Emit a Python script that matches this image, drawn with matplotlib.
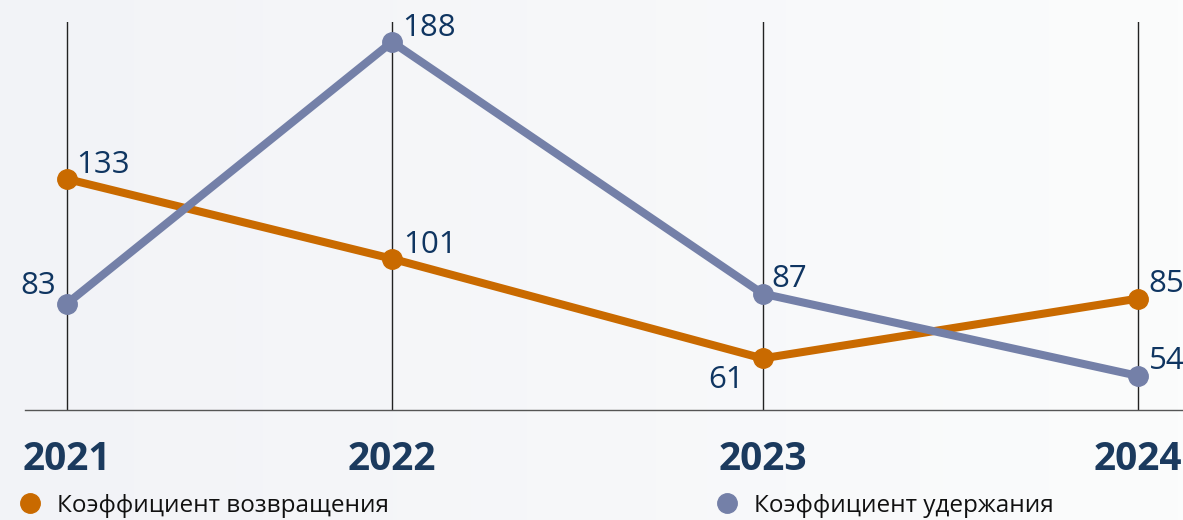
import numpy as np
import matplotlib
matplotlib.use("Agg")
import matplotlib.pyplot as plt
from matplotlib.colors import LinearSegmentedColormap

# ---- data ----
years = ["2021", "2022", "2023", "2024"]
return_rate = [133, 101, 61, 85]       # Коэффициент возвращения
retention_rate = [83, 188, 87, 54]     # Коэффициент удержания
series_names = ["Коэффициент возвращения", "Коэффициент удержания"]

# ---- layout / style ----
x_pos = [0.0, 1.0, 2.14, 3.295]   # uneven category spacing as in the reference
orange = "#c96a00"
blue = "#7480a8"
navy = "#0f3561"
year_col = "#1b3a5e"
FONT = "Open Sans"

W, H = 1183, 520
fig = plt.figure(figsize=(W / 100, H / 100), dpi=100)

# background gradient
bg = fig.add_axes([0, 0, 1, 1], zorder=-10)
grad = np.linspace(0, 1, 256).reshape(1, -1)
cmap = LinearSegmentedColormap.from_list("bg", ["#f2f3f7", "#fbfcfc"])
bg.imshow(grad, aspect="auto", cmap=cmap, extent=[0, 1, 0, 1])
bg.set_axis_off()

# plot axes: left 25px, top 22px, bottom 410px
left_px, top_px, bot_px = 25, 22, 410
ax = fig.add_axes([left_px / W, 1 - bot_px / H, 1 - left_px / W, (bot_px - top_px) / H])
ax.patch.set_alpha(0)
unit = 325.0
ax.set_xlim(x_pos[0] - (67 - left_px) / unit, x_pos[0] + (W - 67) / unit)
ax.set_ylim(40.3, 196.0)

for s in ["top", "right", "left"]:
    ax.spines[s].set_visible(False)
ax.spines["bottom"].set_color("#555555")
ax.spines["bottom"].set_linewidth(1.0)
ax.set_xticks([])
ax.set_yticks([])

for xp in x_pos:
    ax.axvline(xp, color="#222222", lw=1.0, zorder=1)

ax.plot(x_pos, return_rate, color=orange, lw=5.8, marker="o", ms=14,
        solid_capstyle="round", zorder=3, clip_on=False)
ax.plot(x_pos, retention_rate, color=blue, lw=5.8, marker="o", ms=14,
        solid_capstyle="round", zorder=4, clip_on=False)

def lab(x, v, dx, dy, ha):
    ax.annotate(str(v), (x, v), xytext=(dx, dy), textcoords="offset pixels",
                ha=ha, va="baseline", fontsize=22.5, color=navy,
                family=FONT, zorder=5, annotation_clip=False)

# return-rate labels
lab(x_pos[0], return_rate[0], 9, 6, "left")
lab(x_pos[1], return_rate[1], 11, 6, "left")
lab(x_pos[2], return_rate[2], -19, -30, "right")
lab(x_pos[3], return_rate[3], 11, 7, "left")
# retention labels
lab(x_pos[0], retention_rate[0], -11, 10, "right")
lab(x_pos[1], retention_rate[1], 10, 6, "left")
lab(x_pos[2], retention_rate[2], 9, 7, "left")
lab(x_pos[3], retention_rate[3], 11, 7, "left")

# year labels
for xp, yr in zip(x_pos, years):
    ax.annotate(yr, (xp, 0), xycoords=("data", "axes fraction"),
                xytext=(0, -60), textcoords="offset pixels",
                ha="center", va="baseline", fontsize=28, fontweight="bold",
                color=year_col, family=FONT, annotation_clip=False)

# legend (manual)
for (cx, tx), name, col in zip([(30, 57), (727, 754)], series_names, [orange, blue]):
    fig.lines.append(matplotlib.lines.Line2D([cx / W], [1 - 503 / H], marker="o",
                                             ms=14, color=col, transform=fig.transFigure))
    fig.text(tx / W, 1 - 503 / H, name, ha="left", va="center_baseline",
             fontsize=17.5, color="#111111", family=FONT)

fig.savefig("out.png", dpi=100)
